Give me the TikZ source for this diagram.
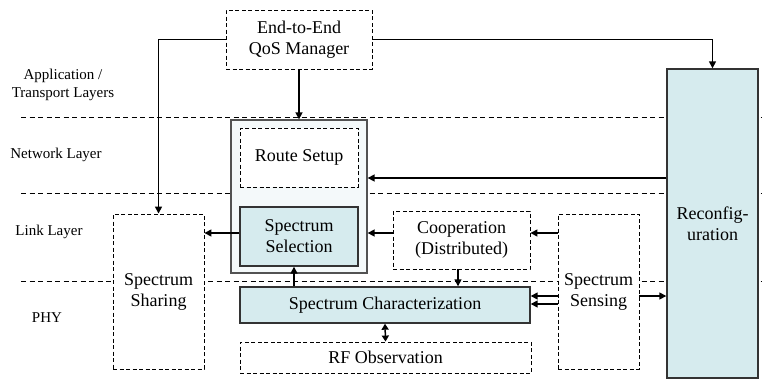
\documentclass[tikz,border=0pt]{standalone}
\usepackage{fontspec}
\setmainfont{Liberation Serif}
\usetikzlibrary{arrows.meta}
\definecolor{paleblue}{HTML}{D6EBEE}
\definecolor{palewash}{HTML}{F4F9FA}
\definecolor{edge}{HTML}{333333}
\tikzset{
  dbox/.style={draw=black, dash pattern=on 4pt off 2.5pt, line width=0.9pt, fill=white,
    align=center, inner sep=0pt, font=\fontsize{18}{21}\selectfont},
  sbox/.style={draw=edge, line width=1.4pt, fill=paleblue,
    align=center, inner sep=0pt, font=\fontsize{18}{21}\selectfont},
  layer/.style={dash pattern=on 5pt off 3.5pt, line width=0.9pt},
  lbl/.style={align=center, font=\fontsize{15}{18}\selectfont},
  arr/.style={-{Triangle[length=7pt,width=7pt]}, line width=1.5pt},
  darr/.style={{Triangle[length=6pt,width=7pt]}-{Triangle[length=6pt,width=7pt]}, line width=1.5pt},
}

\begin{document}
\begin{tikzpicture}[x=1pt,y=-1pt]
\useasboundingbox (0,0) rectangle (762,383);
% layer boundaries
\foreach \ly in {117,193,281}
  \draw[layer] (21,\ly) -- (762,\ly);
% layer names
\node[lbl] (applbl) at (63,85) {Application /\\Transport Layers};
\node[lbl] (netlbl) at (56,155) {Network Layer};
\node[lbl] (linklbl) at (49,232) {Link Layer};
\node[lbl] (phylbl) at (47,318) {PHY};
% blocks
\node[dbox, minimum width=146pt, minimum height=59pt] (qos) at (299,39.5) {End-to-End\\QoS Manager};
\node[draw=edge!85, line width=1.3pt, fill=palewash, minimum width=136pt, minimum height=153pt] (netblk) at (299,196.5) {};
\node[dbox, minimum width=118pt, minimum height=59pt] (route) at (299,157.5) {Route Setup};
\node[sbox, minimum width=118pt, minimum height=59pt] (sel) at (299,236.5) {Spectrum\\Selection};
\node[dbox, minimum width=91pt, minimum height=155pt] (sharing) at (158.5,291.5) {Spectrum\\Sharing};
\node[sbox, minimum width=290pt, minimum height=36pt] (char) at (385,305) {Spectrum Characterization};
\node[dbox, minimum width=291pt, minimum height=31pt] (rf) at (385.5,357.5) {RF Observation};
\node[dbox, minimum width=137pt, minimum height=58pt] (coop) at (461.5,240) {Cooperation\\(Distributed)};
\node[dbox, minimum width=81pt, minimum height=155pt] (sensing) at (598.5,291.5) {Spectrum\\Sensing};
\node[sbox, minimum width=91pt, minimum height=309pt] (reconf) at (712.5,223.5) {Reconfig-\\uration};
% connectors
\draw[arr] (qos.south) -- (netblk.north);
\draw[arr] (qos.west) -| (sharing.north);
\draw[arr] (qos.east) -| (reconf.north);
\draw[arr] (reconf.west |- 0,178) -- (netblk.east |- 0,178);
\draw[arr] (sel.west |- 0,233) -- (sharing.east |- 0,233);
\draw[arr] (coop.west |- 0,233) -- (netblk.east |- 0,233);
\draw[arr] (sensing.west |- 0,233) -- (coop.east |- 0,233);
\draw[arr] (coop.south -| 458,0) -- (char.north -| 458,0);
\draw[arr] (char.north -| 294,0) -- (sel.south -| 294,0);
\draw[darr] (char.south) -- (rf.north);
\draw[arr] (sensing.west |- 0,296) -- (char.east |- 0,296);
\draw[arr] (sensing.west |- 0,304) -- (char.east |- 0,304);
\draw[arr] (sensing.east |- 0,296) -- (reconf.west |- 0,296);
\end{tikzpicture}
\end{document}
